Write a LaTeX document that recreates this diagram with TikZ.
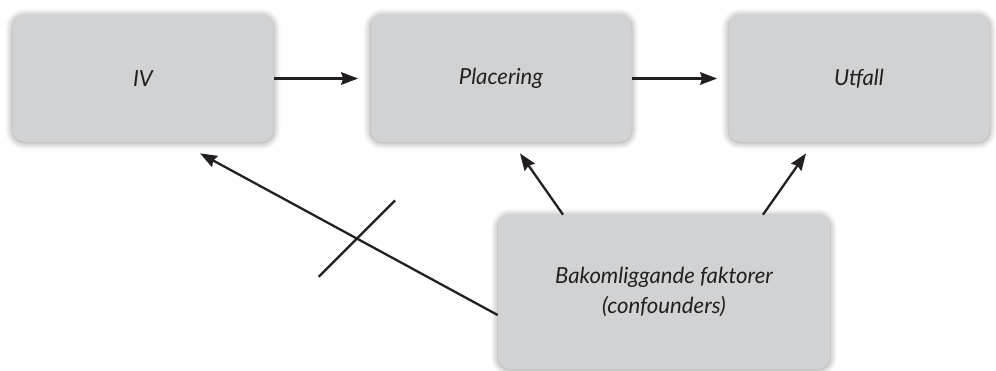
\documentclass[tikz,border=0pt]{standalone}
\usepackage{fontspec}
\setmainfont{Lato}
\usepackage{tikz}
\usetikzlibrary{positioning}
\usetikzlibrary{arrows.meta,shadows.blur}
\definecolor{boxgray}{HTML}{D1D2D4}
\definecolor{ink}{HTML}{231F20}

\begin{document}
\begin{tikzpicture}[node distance=7.16cm,
box/.style={
rectangle,
rounded corners=0.24cm,
fill=boxgray,
text=ink,
font=\fontsize{12.6}{17.5}\selectfont\itshape,
align=center,
minimum width=5.22cm,
minimum height=2.54cm,
blur shadow={shadow xshift=0pt,shadow yshift=-0.4pt,shadow blur radius=4pt,shadow opacity=45}
},
to/.style={-{Stealth[length=0.34cm,width=0.25cm,inset=0.04cm]},line width=1.3pt,draw=ink},
cut/.style={line width=1.3pt,draw=ink}]

\useasboundingbox (0,0) rectangle (19.92,-7.42);

\node (iv) [box] at (2.86,-1.57) {IV};
\node (plac) [box,right of=iv] {Placering};
\node (utfall) [box,right of=plac] {Utfall};
\node (conf) [box,below of=plac,node distance=4.27cm,xshift=3.26cm,minimum width=6.64cm,minimum height=3.08cm] {Bakomliggande faktorer\\(confounders)};

\draw[to] (iv.east) -- ([xshift=-0.24cm]plac.west);
\draw[to] (plac.east) -- ([xshift=-0.22cm]utfall.west);
\draw[to] ([xshift=-2.02cm]conf.north) -- ([xshift=0.38cm,yshift=-0.22cm]plac.south);
\draw[to] ([xshift=1.98cm]conf.north) -- ([xshift=-1.06cm,yshift=-0.22cm]utfall.south);
\draw[to] ([yshift=-0.46cm]conf.west) -- coordinate[pos=0.473] (block) ([xshift=1.14cm,yshift=-0.22cm]iv.south);
% blocked path
\draw[cut] ([shift={(45:1.08)}]block) -- ([shift={(225:1.08)}]block);
\end{tikzpicture}
\end{document}
